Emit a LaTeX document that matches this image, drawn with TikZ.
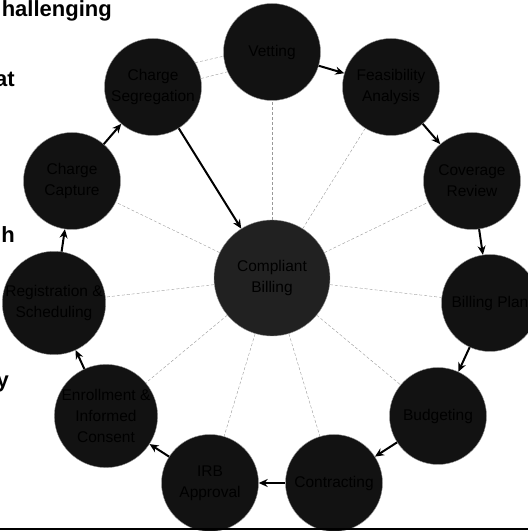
\documentclass[tikz,border=0pt]{standalone}
\usepackage{fontspec}
\setmainfont{Liberation Sans}
\usetikzlibrary{arrows.meta}

\begin{document}
\begin{tikzpicture}[
  x=1pt, y=1pt,
  font=\fontsize{15.5}{21}\selectfont,
  >={Stealth[length=9pt,width=8pt]},
  stage/.style={circle, draw=black!40, line width=0.4pt, fill=black!93,
                text=black, align=center, inner sep=0pt, minimum size=97pt},
  hub/.style={circle, draw=black!40, line width=0.4pt, fill=black!87,
              text=black, align=center, inner sep=0pt, minimum size=116pt},
  flow/.style={->, draw=black, line width=2pt},
  spoke/.style={draw=black!40, line width=0.4pt, densely dashed},
  cut/.style={font=\fontsize{22}{26}\selectfont\bfseries, anchor=base east,
              inner sep=0pt},
  rulebar/.style={draw=black, line width=2.5pt},
]
\useasboundingbox (0,0) rectangle (528,531);

\node[cut] (txtA) at (112,514) {hallenging};
\node[cut] (txtB) at (15,444) {at};
\node[cut] (txtC) at (15,288) {h};
\node[cut] (txtD) at (9,143) {y};

\node[hub] (billing) at (272,253) {Compliant\\Billing};

\node[stage] (vet)   at (272,479) {Vetting};
\node[stage] (feas)  at (391,444) {Feasibility\\Analysis};
\node[stage] (cov)   at (472,350) {Coverage\\Review};
\node[stage] (plan)  at (490,228) {Billing Plan};
\node[stage] (budg)  at (438,115) {Budgeting};
\node[stage] (contr) at (334,48)  {Contracting};
\node[stage] (irb)   at (210,48)  {IRB\\Approval};
\node[stage] (enrol) at (106,115) {Enrollment \&\\Informed\\Consent};
\node[stage] (reg)   at (54,228)  {Registration \&\\Scheduling};
\node[stage] (capt)  at (72,350)  {Charge\\Capture};
\node[stage] (seg)   at (153,444) {Charge\\Segregation};

\foreach \s in {vet,feas,cov,plan,budg,contr,irb,enrol,reg,capt}
  \draw[spoke] (billing) -- (\s);

\draw[spoke] (seg.30) -- (vet.185);
\draw[spoke] (seg.10) -- (vet.204);

\draw[flow] (vet) -- (feas);
\draw[flow] (feas) -- (cov);
\draw[flow] (cov) -- (plan);
\draw[flow] (plan) -- (budg);
\draw[flow] (budg) -- (contr);
\draw[flow] (contr) -- (irb);
\draw[flow] (irb) -- (enrol);
\draw[flow] (enrol) -- (reg);
\draw[flow] (reg) -- (capt);
\draw[flow] (capt) -- (seg);
\draw[flow] (seg) -- (billing);

\coordinate (ruleL) at (0,2);
\coordinate (ruleR) at (528,2);
\draw[rulebar] (ruleL) -- (ruleR);
\end{tikzpicture}
\end{document}
